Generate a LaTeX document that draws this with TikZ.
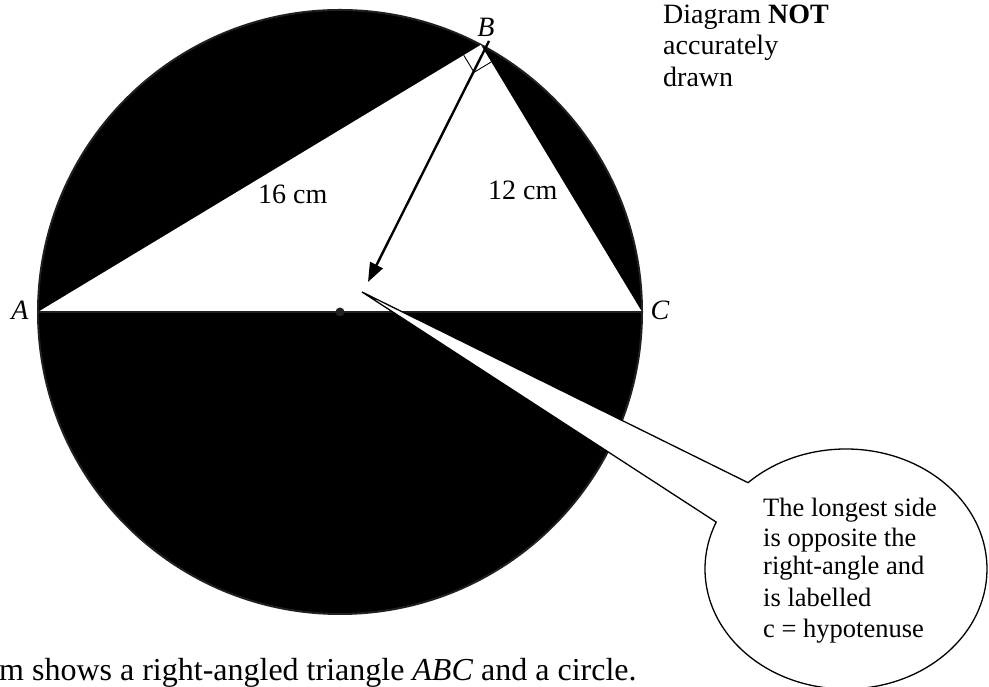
\documentclass[tikz,border=0pt]{standalone}
\usepackage{fontspec}
\setmainfont{Liberation Serif}
\usetikzlibrary{arrows.meta,calc}
\definecolor{ink}{HTML}{231F20}
\begin{document}
\begin{tikzpicture}[x=1pt,y=1pt,
  lbl/.style={font=\fontsize{28}{32}\selectfont, inner sep=0pt},
  captxt/.style={font=\fontsize{32}{36}\selectfont, inner sep=0pt},
  note/.style={font=\fontsize{26.5}{30}\selectfont, inner sep=0pt, align=left},
  rim/.style={draw=ink, line width=2pt},
  thin/.style={draw=black, line width=0.9pt}]
\useasboundingbox (0,0) rectangle (989,687);
% geometry
\coordinate (O) at (340,375);
\coordinate (A) at ($(O)+(180:302)$);
\coordinate (C) at ($(O)+(0:302)$);
\coordinate (B) at ($(O)+(62.2:302)$);
% circle and triangle
\fill[black] (O) circle[radius=302];
\draw[rim] (O) circle[radius=302];
\fill[white] (A) -- (B) -- (C) -- cycle;
\draw[rim] (A) -- (C);
\fill[ink] (O) circle[radius=4.5];
% right-angle mark
\coordinate (P1) at ($(B)!20pt!(A)$);
\coordinate (P2) at ($(B)!20pt!(C)$);
\coordinate (P3) at ($(P1)+(P2)-(B)$);
\draw[thin] (P1) -- (P3) -- (P2);
% arrow
\coordinate (arrS) at (489,646);
\coordinate (arrE) at (368,405);
\draw[line width=2.4pt, -{Triangle[length=19pt,width=14pt]}] (arrS) -- (arrE);
% callout
\coordinate (E) at (846,118);
\coordinate (tip) at (362,395);
\draw[black, line width=1.3pt, fill=white] (tip) -- ($(E)+(134:141 and 120)$)
  arc[start angle=134, end angle=-203, x radius=141, y radius=120] -- cycle;
% labels
\node[lbl] (lA) at (20,377) {\textit{A}};
\node[lbl] (lC) at (660,377) {\textit{C}};
\node[lbl] (lB) at (486,660) {\textit{B}};
\node[lbl, anchor=base west] (l16) at (258,483) {16 cm};
\node[lbl, anchor=base west] (l12) at (488,487) {12 cm};
\node[lbl, anchor=base west] (d1) at (663,663) {Diagram \textbf{NOT}};
\node[lbl, anchor=base west] (d2) at (663,632) {accurately};
\node[lbl, anchor=base west] (d3) at (663,600) {drawn};
\node[note, anchor=base west] (n1) at (763,170) {The longest side};
\node[note, anchor=base west] (n2) at (763,140) {is opposite the};
\node[note, anchor=base west] (n3) at (763,112) {right-angle and};
\node[note, anchor=base west] (n4) at (763,80) {is labelled};
\node[note, anchor=base west] (n5) at (763,49) {c = hypotenuse};
\node[captxt, anchor=base west] (caption) at (-1,6) {m shows a right-angled triangle \textit{ABC} and a circle.};
\end{tikzpicture}
\end{document}
